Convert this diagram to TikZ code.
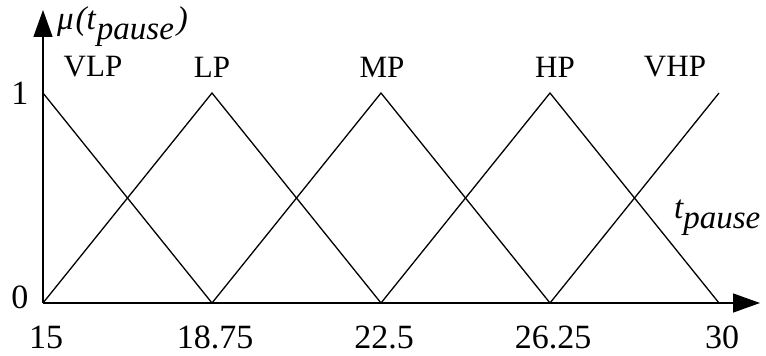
\documentclass[tikz,border=0pt]{standalone}
\usepackage{fontspec}
\setmainfont{Liberation Serif}
\usetikzlibrary{arrows.meta}
\tikzset{
  axis_line/.style={line width=1.4pt,-{Triangle[length=27pt,width=19pt]}},
  memb_line/.style={line width=1.3pt,line join=miter},
  set_label/.style={font=\fontsize{31}{33}\selectfont},
  var_label/.style={font=\fontsize{33}{35}\selectfont\itshape,anchor=west,inner sep=0pt},
  num_label/.style={font=\fontsize{34}{36}\selectfont}
}
\def\TickStep {169}

\begin{document}
\begin{tikzpicture}[x=1pt,y=1pt]
        \useasboundingbox (0,0) rectangle (766,356);
        \coordinate (O) at (43,53);
        \draw[axis_line] (O) -- (760,53);
        \draw[axis_line] (O) -- (43,346);
        \foreach \m/\val in {0/15,1/18.75,2/22.5,3/26.25,4/30} {
            \coordinate (b_\m) at ({43+\m*\TickStep},53);
            \coordinate (p_\m) at ({43+\m*\TickStep},263);
            \node[num_label] (x_\m) at ({43+\m*\TickStep+3},19) {\val};
          }
        % membership functions
        \draw[memb_line] (p_0) -- (b_1);
        \draw[memb_line] (b_0) -- (p_1) -- (b_2);
        \draw[memb_line] (b_1) -- (p_2) -- (b_3);
        \draw[memb_line] (b_2) -- (p_3) -- (b_4);
        \draw[memb_line] (b_3) -- (p_4);
        \node[set_label] (vlp) at (93,289) {VLP};
        \node[set_label] (lp) at (212,289) {LP};
        \node[set_label] (mp) at (382,289) {MP};
        \node[set_label] (hp) at (555,289) {HP};
        \node[set_label] (vhp) at (675,289) {VHP};
        \node[num_label] (one) at (20,263) {1};
        \node[num_label] (zero) at (20,59) {0};
        \node[var_label] (mu) at (57,329)
          {μ\kern2pt(t\kern1pt\raisebox{-0.3em}{pause}\kern3pt)};
        \node[var_label] (tp) at (674,138) {t\raisebox{-0.3em}{pause}};
      \end{tikzpicture}
\end{document}
